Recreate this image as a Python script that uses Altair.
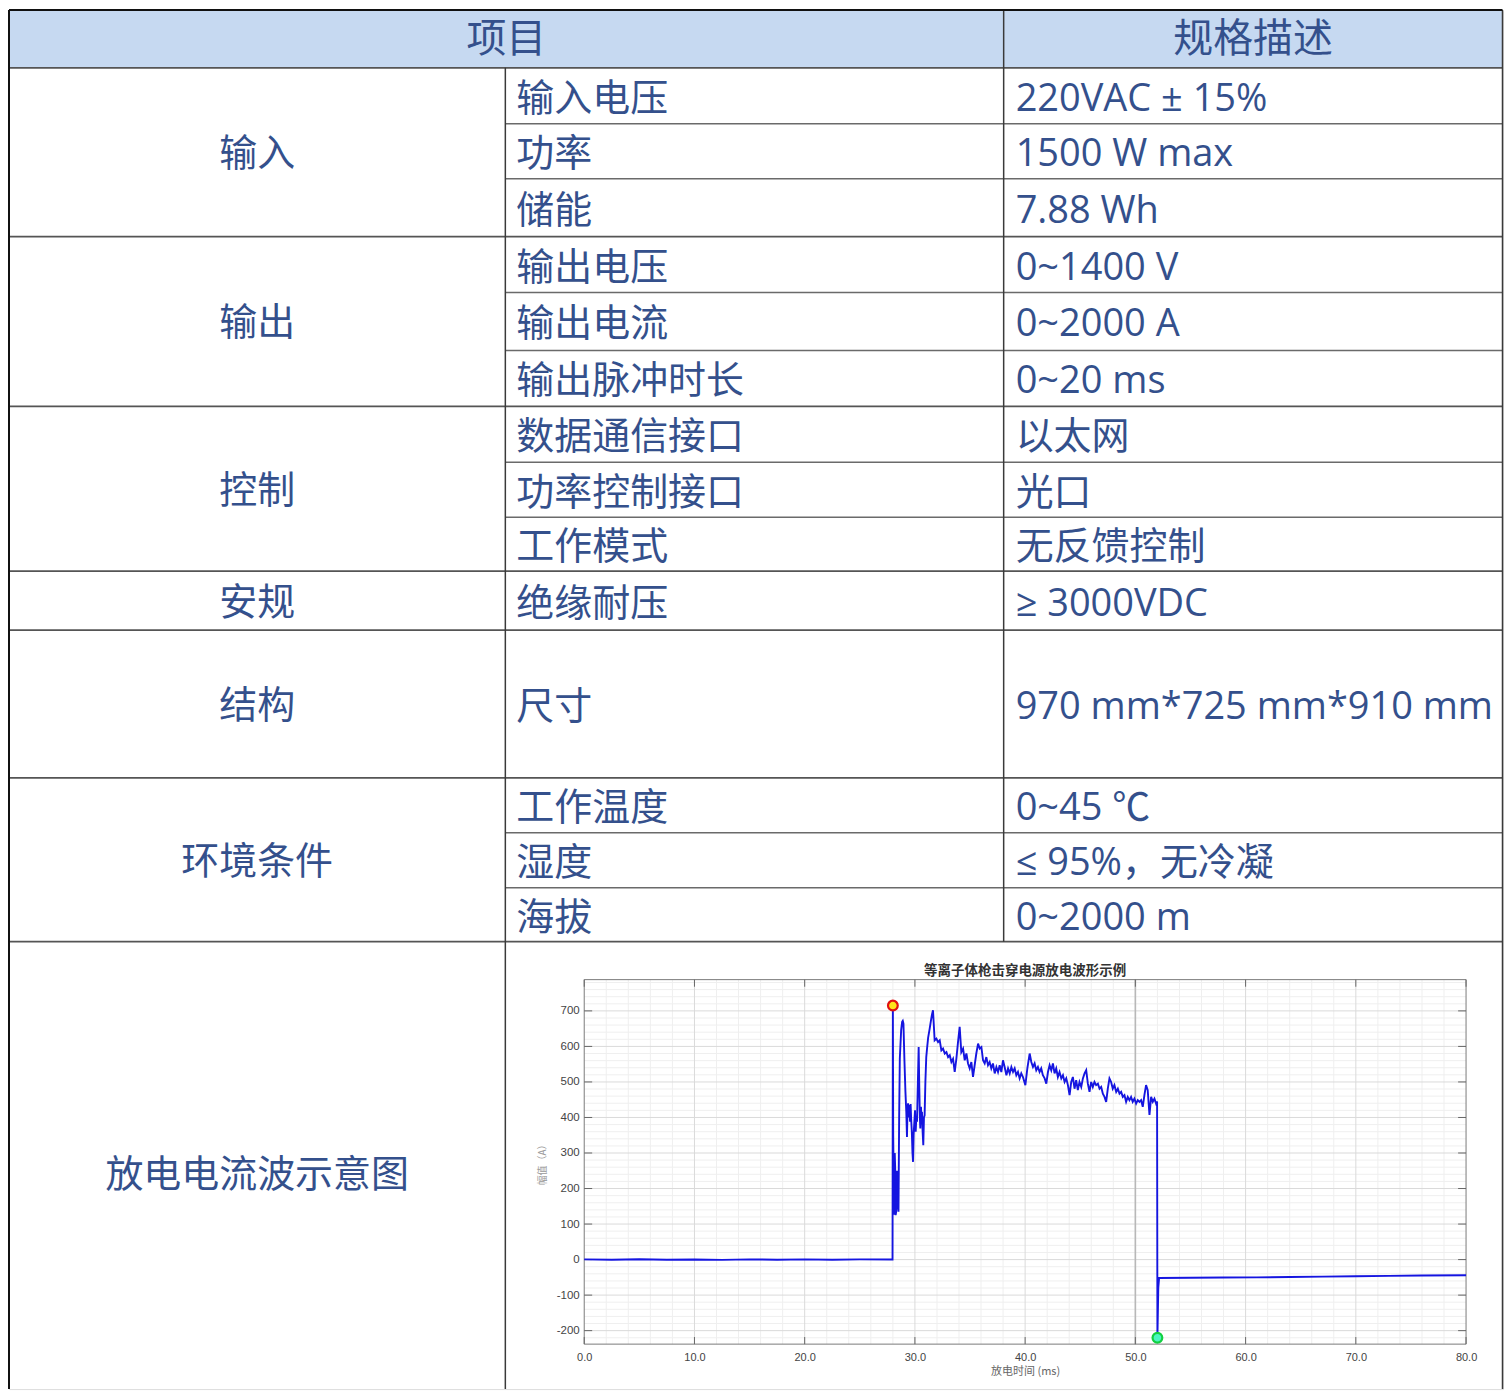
import altair as alt
import numpy as np
import pandas as pd

# ---------------- table content ----------------
header_labels = ["项目", "规格描述"]
group_labels = ["输入", "输出", "控制", "安规", "结构", "环境条件"]
group_row_counts = [3, 3, 3, 1, 1, 3]
item_labels = ["输入电压", "功率", "储能", "输出电压", "输出电流", "输出脉冲时长",
               "数据通信接口", "功率控制接口", "工作模式", "绝缘耐压", "尺寸",
               "工作温度", "湿度", "海拔"]
spec_labels = ["220VAC ± 15%", "1500 W max", "7.88 Wh", "0~1400 V", "0~2000 A",
               "0~20 ms", "以太网", "光口", "无反馈控制", "≥ 3000VDC",
               "970 mm*725 mm*910 mm", "0~45 ℃", "≤ 95%，无冷凝", "0~2000 m"]
figure_label = "放电电流波示意图"

# ---------------- waveform content ----------------
chart_title = "等离子体枪击穿电源放电波形示例"
x_axis_title = "放电时间 (ms)"
y_axis_title = "幅值（A）"
x_tick_values = [0, 10, 20, 30, 40, 50, 60, 70, 80]
y_tick_values = [-200, -100, 0, 100, 200, 300, 400, 500, 600, 700]

wave_t = [0.0, 2.5, 5.0, 7.5, 10.0, 12.5, 15.0, 17.5, 20.0, 22.5, 25.0, 27.97,
          28.0, 28.03, 28.08, 28.12, 28.17, 28.21, 28.25, 28.30, 28.36, 28.42, 28.47, 28.51,
          28.57, 28.63, 28.75, 28.84, 28.90, 28.96, 29.05, 29.14, 29.22, 29.28, 29.33, 29.38,
          29.44, 29.50, 29.56, 29.61, 29.66, 29.72, 29.78, 29.83, 29.88, 29.95, 30.01, 30.07,
          30.13, 30.19, 30.27, 30.34, 30.40, 30.45, 30.49, 30.55, 30.60, 30.64, 30.70, 30.76,
          30.82, 30.88, 30.95, 31.03, 31.10, 31.20, 31.34, 31.45, 31.55, 31.64, 31.79,
          31.95, 32.10, 32.25, 32.40, 32.55, 32.71, 32.86, 33.01, 33.16, 33.31, 33.46, 33.61,
          33.76, 33.91, 34.06, 34.21, 34.37, 34.52, 34.67, 34.82, 34.97, 35.12, 35.27, 35.42,
          35.57, 35.73, 35.88, 36.03, 36.18, 36.33, 36.48, 36.63, 36.78, 36.93, 37.08, 37.24,
          37.39, 37.54, 37.69, 37.84, 37.99, 38.14, 38.30, 38.45, 38.60, 38.75, 38.90, 39.05,
          39.20, 39.35, 39.50, 39.65, 39.80, 40.02, 40.20, 40.41, 40.56, 40.71, 40.86, 41.01,
          41.16, 41.31, 41.46, 41.61, 41.77, 41.92, 42.07, 42.22, 42.37, 42.52, 42.67, 42.82,
          42.97, 43.12, 43.28, 43.43, 43.58, 43.73, 43.88, 44.03, 44.18, 44.33, 44.48, 44.63,
          44.78, 44.93, 45.09, 45.24, 45.39, 45.54, 45.69, 45.84, 45.99, 46.14, 46.29, 46.44,
          46.60, 46.75, 46.90, 47.05, 47.20, 47.35, 47.50, 47.65, 47.80, 47.95, 48.10, 48.26,
          48.41, 48.56, 48.71, 48.86, 49.01, 49.16, 49.31, 49.46, 49.61, 49.76, 49.91, 50.07,
          50.22, 50.37, 50.52, 50.67, 50.82, 50.97, 51.12, 51.28, 51.43, 51.58, 51.73, 51.88,
          51.97, 52.00, 52.08, 52.15, 55.0, 58.0, 61.0, 64.0, 67.0, 70.0, 73.0, 76.0, 80.0]
wave_a = [0.6, -0.4, 0.8, -0.5, 0.4, -0.7, 0.5, -0.3, 0.7, -0.5, 0.6, 0.4,
          715, 350, 205, 126, 300, 257, 125, 134, 250, 219, 145, 135,
          400, 566, 645, 669, 672, 664, 560, 472, 415, 345, 420, 440,
          400, 435, 388, 438, 395, 360, 300, 275, 350, 388, 420, 360,
          400, 388, 500, 598, 480, 400, 369, 430, 380, 416, 360, 322,
          400, 406, 500, 570, 594, 625, 650, 672, 690, 702, 617,
          622, 612, 617, 589, 594, 580, 584, 570, 575, 556, 565, 528,
          565, 612, 655, 584, 594, 561, 580, 552, 538, 556, 514, 547,
          580, 608, 594, 598, 561, 552, 570, 547, 556, 538, 552, 524,
          542, 528, 547, 528, 561, 542, 519, 538, 524, 542, 528, 538,
          519, 528, 510, 524, 514, 491, 538, 580, 556, 542, 552, 533,
          542, 528, 538, 519, 510, 495, 528, 547, 533, 552, 524, 538,
          514, 528, 510, 519, 500, 510, 491, 463, 500, 514, 481, 505,
          477, 500, 486, 510, 524, 533, 495, 472, 500, 486, 500, 491,
          495, 481, 486, 467, 458, 444, 481, 510, 500, 481, 491, 472,
          481, 467, 472, 458, 463, 444, 458, 449, 458, 444, 453, 439,
          449, 444, 449, 430, 463, 491, 477, 407, 458, 444, 453, 439,
          445, -220, -80, -52, -51, -50.5, -50, -49, -48, -47, -46, -45, -44]
peak_t, peak_a = [28.0], [715]
trough_t, trough_a = [52.0], [-220]
cursor_t = [50.0]

# ---------------- layout (page pixels) ----------------
W, H = 1496, 1380
PAGE = 8
col_x = [8, 505, 1004, 1503.5]
table_top, header_bottom = 7, 65
row_heights = [56, 55, 58, 56, 58, 56, 56, 55, 54, 59, 148, 55, 55, 54]
last_row_bottom = 1404
x_domain = [0, 80]
y_domain = [-238, 788]
plot_left, plot_right, plot_top, plot_bottom = 584, 1467, 978, 1343

FONT = "Open Sans, Noto Sans CJK SC"
CJK = "Noto Sans CJK SC"
TEXT_COLOR = "#34508C"
HEADER_FILL = "#C6D9F1"

bounds = np.concatenate([[header_bottom], header_bottom + np.cumsum(row_heights)])
gidx = np.concatenate([[0], np.cumsum(group_row_counts)])
group_bounds = bounds[gidx]

sx = alt.Scale(domain=[PAGE, PAGE + W], range=[0, W], nice=False, zero=False)
sy = alt.Scale(domain=[PAGE, PAGE + H], range=[0, H], nice=False, zero=False)


def pos(extra=None):
    enc = dict(x=alt.X("x:Q", scale=sx, axis=None), y=alt.Y("y:Q", scale=sy, axis=None))
    if extra:
        enc.update(extra)
    return enc


# header band
header_rect = alt.Chart(pd.DataFrame({"x": [col_x[0]], "x2": [col_x[3]],
                                      "y": [table_top], "y2": [header_bottom]})).mark_rect(
    color=HEADER_FILL).encode(**pos({"x2": "x2:Q", "y2": "y2:Q"}))

# lines
full_rows = [header_bottom] + list(group_bounds[1:])
part_rows = [b for b in bounds if b not in set(group_bounds)]
h_full = pd.DataFrame({"x": col_x[0], "x2": col_x[3], "y": full_rows, "y2": full_rows})
h_part = pd.DataFrame({"x": col_x[1], "x2": col_x[3], "y": part_rows, "y2": part_rows})
h_top = pd.DataFrame({"x": [col_x[0]], "x2": [col_x[3]], "y": [table_top], "y2": [table_top]})
v_lines = pd.DataFrame({"x": [col_x[1], col_x[2], col_x[3]],
                        "x2": [col_x[1], col_x[2], col_x[3]],
                        "y": [header_bottom, table_top, table_top],
                        "y2": [PAGE + H, bounds[-1], PAGE + H]})
v_left = pd.DataFrame({"x": [col_x[0]], "x2": [col_x[0]], "y": [table_top], "y2": [PAGE + H]})


def rules(df, color, width):
    return alt.Chart(df).mark_rule(color=color, strokeWidth=width).encode(
        **pos({"x2": "x2:Q", "y2": "y2:Q"}))


# texts
header_df = pd.DataFrame({"x": [(col_x[0] + col_x[2]) / 2, (col_x[2] + col_x[3]) / 2],
                          "y": [(table_top + header_bottom) / 2] * 2, "label": header_labels})
gmid = list((group_bounds[:-1] + group_bounds[1:]) / 2) + [(bounds[-1] + last_row_bottom) / 2]
group_df = pd.DataFrame({"x": (col_x[0] + col_x[1]) / 2, "y": gmid,
                         "label": group_labels + [figure_label]})
rmid = (bounds[:-1] + bounds[1:]) / 2
item_df = pd.DataFrame({"x": col_x[1] + 11, "y": rmid, "label": item_labels})
spec_df = pd.DataFrame({"x": col_x[2] + 12, "y": rmid, "label": spec_labels})


def texts(df, align, size, dy=4):
    return alt.Chart(df).mark_text(align=align, baseline="middle", dy=dy, font=FONT,
                                   fontSize=size, color=TEXT_COLOR).encode(
        **pos({"text": "label:N"}))


table = alt.layer(
    header_rect,
    rules(h_part, "#6a6a6a", 1.5),
    rules(h_full, "#555555", 1.8),
    rules(v_lines, "#3a3a3a", 1.5),
    rules(h_top, "#111111", 2),
    rules(v_left, "#111111", 2),
    texts(header_df, "center", 40, 1),
    texts(group_df, "center", 38, 3),
    texts(item_df, "left", 38),
    texts(spec_df, "left", 38),
)

# ---------------- waveform panel ----------------
wsx = alt.Scale(domain=x_domain, range=[plot_left - PAGE, plot_right - PAGE], nice=False, zero=False)
wsy = alt.Scale(domain=y_domain, range=[plot_bottom - PAGE, plot_top - PAGE], nice=False, zero=False)

x_axis = alt.Axis(orient="bottom", offset=-(PAGE + H - plot_bottom), values=x_tick_values,
                  format=".1f", title=x_axis_title, grid=False, domain=False, ticks=False,
                  labelFlush=False, labelPadding=7, labelFont="Liberation Sans",
                  labelFontSize=11, labelColor="#444444", titleFont=CJK, titleFontSize=11,
                  titleFontWeight="normal", titleColor="#666666", titlePadding=3)
y_axis = alt.Axis(orient="left", offset=-(plot_left - PAGE), values=y_tick_values,
                  labelExpr="datum.value < 0 ? '-' + abs(datum.value) : '' + datum.value",
                  title=y_axis_title, grid=False, domain=False, ticks=False,
                  labelFlush=False, labelPadding=5, labelFont="Liberation Sans",
                  labelFontSize=11.5, labelColor="#444444", titleFont=CJK, titleFontSize=10,
                  titleFontWeight="normal", titleColor="#999999", titlePadding=9)


def wpos(extra=None):
    enc = dict(x=alt.X("t:Q", scale=wsx, axis=x_axis), y=alt.Y("a:Q", scale=wsy, axis=y_axis))
    if extra:
        enc.update(extra)
    return enc


def wrules(df, color, width):
    return alt.Chart(df).mark_rule(color=color, strokeWidth=width).encode(
        **wpos({"x2": "t2:Q", "y2": "a2:Q"}))


minor_x = [v for v in range(2, 80, 2) if v % 10]
minor_y = [v for v in range(-220, 788, 20) if v % 100]
major_x = x_tick_values[1:-1]
major_y = y_tick_values


def vgrid(vals):
    return pd.DataFrame({"t": vals, "t2": vals, "a": y_domain[0], "a2": y_domain[1]})


def hgrid(vals):
    return pd.DataFrame({"t": x_domain[0], "t2": x_domain[1], "a": vals, "a2": vals})


tick_rows = []
for v in y_tick_values:
    tick_rows.append((0, 0.72, v, v))
    tick_rows.append((79.28, 80, v, v))
for v in x_tick_values:
    tick_rows.append((v, v, y_domain[0], y_domain[0] + 20))
    tick_rows.append((v, v, y_domain[1] - 20, y_domain[1]))
ticks_df = pd.DataFrame(tick_rows, columns=["t", "t2", "a", "a2"])

frame = alt.Chart(pd.DataFrame({"t": [x_domain[0]], "t2": [x_domain[1]],
                                "a": [y_domain[0]], "a2": [y_domain[1]]})).mark_rect(
    fillOpacity=0, stroke="#7a7a7a", strokeWidth=1).encode(**wpos({"x2": "t2:Q", "y2": "a2:Q"}))

wave_df = pd.DataFrame({"t": wave_t, "a": wave_a, "i": range(len(wave_t))})
line = alt.Chart(wave_df).mark_line(color="#1515E0", strokeWidth=1.9).encode(
    **wpos({"order": "i:Q"}))

peak = alt.Chart(pd.DataFrame({"t": peak_t, "a": peak_a})).mark_point(
    shape="circle", filled=True, size=95, fill="#FFE21A", stroke="#E01010",
    strokeWidth=2.2, opacity=1).encode(**wpos())
trough = alt.Chart(pd.DataFrame({"t": trough_t, "a": trough_a})).mark_point(
    shape="circle", filled=True, size=95, fill="#4CF5C0", stroke="#12D040",
    strokeWidth=2.2, opacity=1).encode(**wpos())

cursor = wrules(vgrid(cursor_t), "#b8b8b8", 1.6)

title = alt.Chart(pd.DataFrame({"t": [sum(x_domain) / 2], "a": [y_domain[1]],
                                "label": [chart_title]})).mark_text(
    baseline="middle", dy=-9, font=CJK, fontSize=13.5, fontWeight="bold",
    color="#333333").encode(**wpos({"text": "label:N"}))

wave = alt.layer(
    wrules(vgrid(minor_x), "#efefef", 1),
    wrules(hgrid(minor_y), "#efefef", 1),
    wrules(vgrid(major_x), "#dadada", 1),
    wrules(hgrid(major_y), "#dadada", 1),
    cursor,
    frame,
    wrules(ticks_df, "#666666", 1),
    line,
    peak,
    trough,
    title,
)

chart = alt.layer(table, wave).resolve_scale(
    x="independent", y="independent"
).properties(width=W, height=H, padding=0).configure_view(stroke=None).configure(
    background="white")

chart.save("out.html", embed_options={"renderer": "svg", "actions": False})
